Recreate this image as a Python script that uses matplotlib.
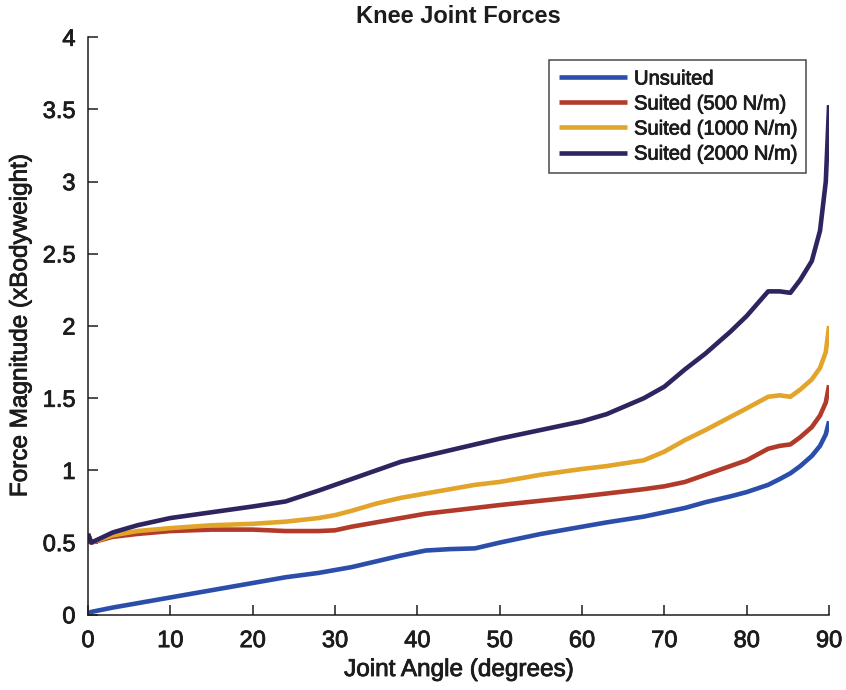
import matplotlib
matplotlib.use("Agg")
import matplotlib.pyplot as plt
import matplotlib.patheffects as pe

plt.rcParams['font.family'] = ['Liberation Sans', 'DejaVu Sans']

# Joint angle samples (degrees)
angle = [0, 0.4, 3, 6, 10, 15, 20, 24, 28, 30, 32, 35, 38, 41, 44, 47, 50, 55,
         60, 63, 67.5, 70, 72.5, 75, 78, 80, 82.6, 84, 85.3, 86.5, 87.9, 88.9,
         89.6, 90]

# Knee joint force magnitude (x bodyweight)
unsuited = [0.01, 0.02, 0.05, 0.08, 0.12, 0.17, 0.22, 0.26, 0.29, 0.31, 0.33,
            0.37, 0.41, 0.445, 0.455, 0.46, 0.50, 0.56, 0.61, 0.64, 0.68, 0.71,
            0.74, 0.78, 0.82, 0.85, 0.90, 0.94, 0.98, 1.03, 1.10, 1.17, 1.25,
            1.34]
suited_500 = [0.56, 0.50, 0.54, 0.56, 0.58, 0.59, 0.59, 0.58, 0.58, 0.585,
              0.61, 0.64, 0.67, 0.70, 0.72, 0.74, 0.76, 0.79, 0.82, 0.84, 0.87,
              0.89, 0.92, 0.97, 1.03, 1.07, 1.15, 1.17, 1.18, 1.23, 1.30, 1.38,
              1.47, 1.59]
suited_1000 = [0.56, 0.50, 0.55, 0.58, 0.60, 0.62, 0.63, 0.645, 0.67, 0.69,
               0.72, 0.77, 0.81, 0.84, 0.87, 0.90, 0.92, 0.97, 1.01, 1.03, 1.07,
               1.13, 1.21, 1.28, 1.37, 1.43, 1.51, 1.52, 1.51, 1.56, 1.63, 1.71,
               1.82, 2.00]
suited_2000 = [0.56, 0.50, 0.57, 0.62, 0.67, 0.71, 0.75, 0.785, 0.86, 0.90,
               0.94, 1.00, 1.06, 1.10, 1.14, 1.18, 1.22, 1.28, 1.34, 1.39, 1.50,
               1.58, 1.70, 1.81, 1.96, 2.07, 2.24, 2.24, 2.23, 2.32, 2.45, 2.66,
               3.00, 3.53]

labels = ['Unsuited', 'Suited (500 N/m)', 'Suited (1000 N/m)', 'Suited (2000 N/m)']
colors = ['#2c4eab', '#b23a2b', '#e2a42a', '#2f2360']
series = [unsuited, suited_500, suited_1000, suited_2000]

xticks = [0, 10, 20, 30, 40, 50, 60, 70, 80, 90]
yticks = [0, 0.5, 1, 1.5, 2, 2.5, 3, 3.5, 4]
yticklabels = ['0', '0.5', '1', '1.5', '2', '2.5', '3', '3.5', '4']

ink = '#1c1c1c'
heavy = [pe.withStroke(linewidth=0.6, foreground=ink)]

fig = plt.figure(figsize=(8.46, 6.90), dpi=100)
ax = fig.add_axes([0.104, 0.109, 0.876, 0.837])

for y, c, lab in zip(series, colors, labels):
    ax.plot(angle, y, color=c, lw=3.3, label=lab, solid_joinstyle='round',
            solid_capstyle='butt')

ax.set_xlim(0, 90)
ax.set_ylim(0, 4)
ax.set_xticks(xticks)
ax.set_yticks(yticks)
ax.set_yticklabels(yticklabels)

for side in ('top', 'right'):
    ax.spines[side].set_visible(False)
for side in ('left', 'bottom'):
    ax.spines[side].set_linewidth(1.1)
    ax.spines[side].set_color(ink)

ax.tick_params(direction='in', length=7, width=1.1, labelsize=17,
               colors=ink)
ax.tick_params(axis='y', pad=9)
ax.tick_params(axis='x', pad=11)

xl = ax.set_xlabel('Joint Angle (degrees)', fontsize=17.5, labelpad=5,
                   color=ink)
yl = ax.set_ylabel('Force Magnitude (xBodyweight)', fontsize=17.5, labelpad=8,
                   color=ink)
ttl = ax.set_title('Knee Joint Forces', fontsize=17, fontweight='bold', pad=10,
                   color=ink)

leg = ax.legend(loc='upper right', bbox_to_anchor=(0.969, 0.960), fontsize=14.5,
                frameon=True, fancybox=False, handlelength=3.4,
                handletextpad=0.35, borderpad=0.45, labelspacing=0.3,
                borderaxespad=0)
leg.get_frame().set_edgecolor(ink)
leg.get_frame().set_linewidth(1.1)

texts = [xl, yl] + list(leg.get_texts()) + ax.get_xticklabels() + ax.get_yticklabels()
for t in texts:
    t.set_color(ink)
    t.set_path_effects(heavy)

fig.savefig('out.png', dpi=100)
